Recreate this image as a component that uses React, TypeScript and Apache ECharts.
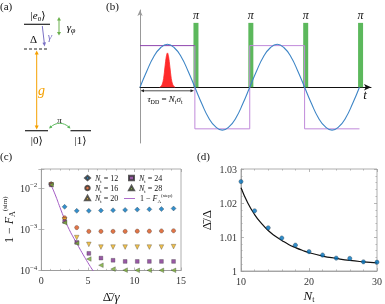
import React, { useEffect, useRef } from 'react';
import * as echarts from 'echarts';

const SERIF = '"Liberation Serif", "DejaVu Serif", serif';

// ---------- panel (b) data (schematic) ----------
const sineWave: [number, number][] = [
  [0, 0], [0.125, 0.38], [0.25, 0.71], [0.375, 0.92], [0.5, 1], [0.625, 0.92], [0.75, 0.71], [0.875, 0.38],
  [1, 0], [1.125, -0.38], [1.25, -0.71], [1.375, -0.92], [1.5, -1], [1.625, -0.92], [1.75, -0.71], [1.875, -0.38],
  [2, 0], [2.125, 0.38], [2.25, 0.71], [2.375, 0.92], [2.5, 1], [2.625, 0.92], [2.75, 0.71], [2.875, 0.38],
  [3, 0], [3.125, -0.38], [3.25, -0.71], [3.375, -0.92], [3.5, -1], [3.625, -0.92], [3.75, -0.71], [3.875, -0.38],
  [4, 0],
];
const squareFirst: [number, number][] = [[0, 0.97], [1, 0.97]];
const squareRest: [number, number][] = [
  [1, 0.97], [1, -0.97], [2, -0.97], [2, 0.97], [3, 0.97], [3, -0.97], [4, -0.97],
];
const gaussPulse: [number, number][] = [
  [0.36, 0], [0.4, 0.05], [0.43, 0.2], [0.455, 0.47], [0.48, 0.72], [0.5, 0.8],
  [0.52, 0.72], [0.545, 0.47], [0.57, 0.2], [0.6, 0.05], [0.64, 0],
];
const piPulseX = [1.02, 2.02, 3.02, 4.02];
const piPulseHeight = [1.5, 1.5, 1.5, 1.5];

// ---------- panel (c) data ----------
const cDelta = [1.05, 2.5, 3.8, 5.1, 6.4, 7.7, 9.0, 10.3, 11.6, 12.9, 14.2];
const cN12 = [1.25e-2, 3.5e-3, 2.8e-3, 2.8e-3, 2.85e-3, 2.9e-3, 2.95e-3, 3.0e-3, 3.05e-3, 3.1e-3, 3.2e-3];
const cN16 = [1.25e-2, 1.9e-3, 1.1e-3, 8.9e-4, 8.9e-4, 8.9e-4, 8.9e-4, 9.0e-4, 9.0e-4, 9.1e-4, 9.2e-4];
const cN20 = [1.2e-2, 1.7e-3, 6.3e-4, 4.3e-4, 3.7e-4, 3.7e-4, 3.7e-4, 3.7e-4, 3.7e-4, 3.7e-4, 3.8e-4];
const cN24 = [1.2e-2, 1.55e-3, 4.8e-4, 2.6e-4, 2.0e-4, 1.77e-4, 1.66e-4, 1.66e-4, 1.66e-4, 1.66e-4, 1.66e-4];
const cN28 = [1.2e-2, 1.45e-3, 4.6e-4, 1.9e-4, 1.34e-4, 1.08e-4, 1.02e-4, 1.01e-4, 1.01e-4, 1.01e-4, 1.01e-4];
const cStepX = [1.0, 1.5, 2.0, 2.5, 3.0, 3.5, 4.0, 4.5, 5.0, 5.5, 6.0];
const cStepY = [1.25e-2, 6.8e-3, 3.4e-3, 1.75e-3, 9.8e-4, 6.0e-4, 3.8e-4, 2.4e-4, 1.55e-4, 1.03e-4, 7e-5];
const STEP_NAME = '1 − F_A^(step)';

// ---------- panel (d) data ----------
const dNt = [10, 12, 14, 16, 18, 20, 22, 24, 26, 28, 30];
const dRatio = [1.0263, 1.0177, 1.0127, 1.0097, 1.0076, 1.0057, 1.0047, 1.0038, 1.0037, 1.0027, 1.0026];
const dFitNt = [10, 11, 12, 13, 14, 15, 16, 17, 18, 19, 20, 22, 24, 26, 28, 30];
const dFitRatio = [1.0245, 1.02, 1.0166, 1.014, 1.0119, 1.0103, 1.009, 1.0078, 1.0069, 1.0061, 1.0054,
  1.0044, 1.0037, 1.0031, 1.0027, 1.0024];

const C_BLUE = '#0072BD';
const C_ORANGE = '#D95319';
const C_YELLOW = '#EDB120';
const C_PURPLE = '#7E2F8E';
const C_GREEN = '#77AC30';
const C_STEP = '#a35bc4';
const FRAME = '#999';
const LABEL = '#333';

const richBase = (size: number) => ({
  n: { fontFamily: SERIF, fontSize: size, lineHeight: size + 3, color: '#111' },
  i: { fontFamily: SERIF, fontSize: size, fontStyle: 'italic', lineHeight: size + 3, color: '#111' },
  s: { fontFamily: SERIF, fontSize: Math.round(size * 0.65), verticalAlign: 'bottom', lineHeight: Math.round(size * 0.55), color: '#111' },
  p: { fontFamily: SERIF, fontSize: Math.round(size * 0.6), verticalAlign: 'top', lineHeight: Math.round(size * 0.55), color: '#111' },
});

const legendFormatter = (name: string) => {
  if (name === STEP_NAME) return '{n|1 − }{i|F}{s|A}{p|(step)}';
  return `{i|N}{s|t}{n| = ${name.replace('Nt = ', '')}}`;
};

const logLabel = (val: number) => {
  const l = Math.log10(val);
  const e = Math.round(l);
  if (Math.abs(l - e) > 1e-6) return '';
  return `{b|10}{sup|${e < 0 ? '−' : ''}${Math.abs(e)}}`;
};

// small helper for arrow heads in the schematic
const head = (tx: number, ty: number, dx: number, dy: number, len: number, hw: number) => {
  const m = Math.hypot(dx, dy);
  const ux = dx / m, uy = dy / m;
  const bx = tx - ux * len, by = ty - uy * len;
  return [[tx, ty], [bx - uy * hw, by + ux * hw], [bx + uy * hw, by - ux * hw]];
};

const cScatter = (name: string, data: number[], color: string, symbol: string, size: number, rotate = 0) => ({
  name,
  type: 'scatter',
  xAxisIndex: 1,
  yAxisIndex: 1,
  symbol,
  symbolSize: size,
  symbolRotate: rotate,
  itemStyle: { color, borderColor: '#333', borderWidth: 0.4 },
  data: cDelta.map((x, k) => [x, data[k]]),
  z: 3,
});

const minorAxisCommon = {
  axisLine: { show: false },
  splitLine: { show: false },
  axisLabel: { show: false },
  axisTick: { show: true, inside: true, length: 3, lineStyle: { color: FRAME, width: 0.7 } },
  minorTick: { show: true, length: 1.6, splitNumber: 5, lineStyle: { color: FRAME, width: 0.6 } },
};

const legendCommon = {
  orient: 'vertical', itemWidth: 5, itemHeight: 4.5, itemGap: 0.5,
  formatter: legendFormatter, textStyle: { rich: richBase(8) }, padding: 0, selectedMode: false,
};

const option: any = {
  animation: false,
  textStyle: { fontFamily: SERIF },
  grid: [
    { left: 140, top: 10, width: 231, height: 133 },
    { left: 40, top: 169, width: 141, height: 103, show: true, borderColor: FRAME, borderWidth: 0.8 },
    { left: 241, top: 169, width: 139, height: 103, show: true, borderColor: FRAME, borderWidth: 0.8 },
  ],
  xAxis: [
    {
      gridIndex: 0, type: 'value', min: 0, max: 4.21,
      axisLine: { show: true, onZero: true, symbol: ['none', 'arrow'], symbolSize: [5, 7], lineStyle: { color: '#111', width: 1 } },
      axisTick: { show: false }, axisLabel: { show: false }, splitLine: { show: false },
    },
    {
      gridIndex: 1, type: 'value', min: 0, max: 15, interval: 5, position: 'bottom',
      axisLine: { show: true, onZero: false, lineStyle: { color: FRAME, width: 0.8 } },
      axisTick: { show: true, inside: true, length: 3, lineStyle: { color: FRAME, width: 0.7 } },
      minorTick: { show: true, length: 1.6, splitNumber: 5, lineStyle: { color: FRAME, width: 0.6 } },
      axisLabel: { color: LABEL, fontSize: 10, margin: 5, fontFamily: SERIF },
      splitLine: { show: false },
      name: '{n|Δ̄/}{i|γ}', nameLocation: 'middle', nameGap: 18,
      nameTextStyle: { rich: richBase(13) },
    },
    { gridIndex: 1, type: 'value', min: 0, max: 15, interval: 5, position: 'top', ...minorAxisCommon },
    {
      gridIndex: 2, type: 'value', min: 10, max: 30, interval: 10, position: 'bottom',
      axisLine: { show: true, onZero: false, lineStyle: { color: FRAME, width: 0.8 } },
      axisTick: { show: true, inside: true, length: 3, lineStyle: { color: FRAME, width: 0.7 } },
      minorTick: { show: true, length: 1.6, splitNumber: 5, lineStyle: { color: FRAME, width: 0.6 } },
      axisLabel: { color: LABEL, fontSize: 10, margin: 5, fontFamily: SERIF },
      splitLine: { show: false },
      name: '{i|N}{s|t}', nameLocation: 'middle', nameGap: 16,
      nameTextStyle: { rich: richBase(13) },
    },
    { gridIndex: 2, type: 'value', min: 10, max: 30, interval: 10, position: 'top', ...minorAxisCommon },
  ],
  yAxis: [
    {
      gridIndex: 0, type: 'value', min: -1.3, max: 1.8,
      axisLine: { show: true, onZero: true, symbol: ['none', 'arrow'], symbolSize: [4, 6], lineStyle: { color: '#999', width: 1 } },
      axisTick: { show: false }, axisLabel: { show: false }, splitLine: { show: false },
    },
    {
      gridIndex: 1, type: 'log', min: 1e-4, max: 0.029, position: 'left',
      axisLine: { show: true, onZero: false, lineStyle: { color: FRAME, width: 0.8 } },
      axisTick: { show: true, inside: true, length: 3, lineStyle: { color: FRAME, width: 0.7 } },
      axisLabel: {
        color: LABEL, margin: 4, formatter: logLabel,
        rich: {
          b: { fontSize: 10, fontFamily: SERIF, color: LABEL, lineHeight: 13 },
          sup: { fontSize: 7, fontFamily: SERIF, color: LABEL, verticalAlign: 'top', lineHeight: 6 },
        },
      },
      splitLine: { show: false },
      name: '{n|1 − }{i|F}{s|A}{p|(sim)}', nameLocation: 'middle', nameRotate: 90, nameGap: 21,
      nameTextStyle: { rich: richBase(12) },
    },
    {
      gridIndex: 1, type: 'log', min: 1e-4, max: 0.029, position: 'right',
      axisLine: { show: false }, splitLine: { show: false }, axisLabel: { show: false },
      axisTick: { show: true, inside: true, length: 3, lineStyle: { color: FRAME, width: 0.7 } },
    },
    {
      gridIndex: 2, type: 'value', min: 1, max: 1.03, interval: 0.01, position: 'left',
      axisLine: { show: true, onZero: false, lineStyle: { color: FRAME, width: 0.8 } },
      axisTick: { show: true, inside: true, length: 3, lineStyle: { color: FRAME, width: 0.7 } },
      minorTick: { show: true, length: 1.6, splitNumber: 5, lineStyle: { color: FRAME, width: 0.6 } },
      axisLabel: { color: LABEL, fontSize: 10, margin: 4, fontFamily: SERIF },
      splitLine: { show: false },
      name: '{n|Δ̄/Δ}', nameLocation: 'middle', nameRotate: 90, nameGap: 27,
      nameTextStyle: { rich: richBase(13) },
    },
    { gridIndex: 2, type: 'value', min: 1, max: 1.03, interval: 0.01, position: 'right', ...minorAxisCommon },
  ],
  legend: [
    { ...legendCommon, left: 84, top: 174, data: ['Nt = 12', 'Nt = 16', 'Nt = 20'] },
    { ...legendCommon, left: 128, top: 174, data: ['Nt = 24', 'Nt = 28'] },
    {
      ...legendCommon, left: 124, top: 193, itemWidth: 11,
      data: [{ name: STEP_NAME, icon: 'path://M0 0 H20 V1.6 H0 Z', itemStyle: { color: C_STEP } }],
    },
  ],
  series: [
    // ---- panel (b)
    {
      type: 'line', xAxisIndex: 0, yAxisIndex: 0, data: gaussPulse, smooth: 0.3, showSymbol: false,
      lineStyle: { color: '#ff2a2a', width: 0.8 }, areaStyle: { color: '#ff2a2a', opacity: 1 }, z: 2,
    },
    {
      type: 'bar', xAxisIndex: 0, yAxisIndex: 0, barWidth: 5,
      data: piPulseX.map((x, k) => [x, piPulseHeight[k]]),
      itemStyle: { color: '#5cb85c' },
      label: {
        show: true, position: 'top', distance: 2, formatter: 'π',
        fontFamily: SERIF, fontStyle: 'italic', fontSize: 12, color: '#111',
      },
      z: 2,
    },
    {
      type: 'line', xAxisIndex: 0, yAxisIndex: 0, data: squareFirst, showSymbol: false,
      lineStyle: { color: '#8e44ad', width: 1 }, z: 3,
    },
    {
      type: 'line', xAxisIndex: 0, yAxisIndex: 0, data: squareRest, showSymbol: false,
      lineStyle: { color: '#c08ada', width: 1 }, z: 3,
    },
    {
      type: 'line', xAxisIndex: 0, yAxisIndex: 0, data: sineWave, smooth: true, showSymbol: false,
      lineStyle: { color: '#3d85c6', width: 1.1 }, z: 4,
    },
    // ---- panel (c)
    {
      name: STEP_NAME, type: 'line', xAxisIndex: 1, yAxisIndex: 1, smooth: true, showSymbol: false,
      symbol: 'none', clip: true,
      data: cStepX.map((x, k) => [x, cStepY[k]]),
      lineStyle: { color: C_STEP, width: 1 }, itemStyle: { color: C_STEP }, z: 2,
    },
    cScatter('Nt = 12', cN12, C_BLUE, 'diamond', 5),
    cScatter('Nt = 16', cN16, C_ORANGE, 'circle', 4.2),
    cScatter('Nt = 20', cN20, C_YELLOW, 'triangle', 4.6, 180),
    cScatter('Nt = 24', cN24, C_PURPLE, 'rect', 3.8),
    cScatter('Nt = 28', cN28, C_GREEN, 'triangle', 4.6, 90),
    // ---- panel (d)
    {
      type: 'line', xAxisIndex: 3, yAxisIndex: 3, smooth: true, showSymbol: false,
      data: dFitNt.map((x, k) => [x, dFitRatio[k]]),
      lineStyle: { color: '#111', width: 1.2 }, z: 2,
    },
    {
      type: 'scatter', xAxisIndex: 3, yAxisIndex: 3, symbol: 'circle', symbolSize: 4.3,
      data: dNt.map((x, k) => [x, dRatio[k]]),
      itemStyle: { color: C_BLUE, borderColor: '#333', borderWidth: 0.4 }, z: 3, clip: false,
    },
  ],
  graphic: [
    // panel labels
    { type: 'text', x: 0, y: 6, style: { text: '(a)', font: `11px ${SERIF}`, fill: '#111', verticalAlign: 'middle' } },
    { type: 'text', x: 106, y: 6, style: { text: '(b)', font: `11px ${SERIF}`, fill: '#111', verticalAlign: 'middle' } },
    { type: 'text', x: 0, y: 156, style: { text: '(c)', font: `11px ${SERIF}`, fill: '#111', verticalAlign: 'middle' } },
    { type: 'text', x: 197, y: 156, style: { text: '(d)', font: `11px ${SERIF}`, fill: '#111', verticalAlign: 'middle' } },

    // ---- panel (a) level diagram
    {
      type: 'text', x: 38, y: 15,
      style: { text: '{n||}{i|e}{s|0}{n|⟩}', rich: richBase(11), align: 'center', verticalAlign: 'middle' },
    },
    { type: 'line', shape: { x1: 24, y1: 24.3, x2: 50, y2: 24.3 }, style: { stroke: '#222', lineWidth: 1.2 } },
    { type: 'text', x: 33.5, y: 39, style: { text: 'Δ', font: `11px ${SERIF}`, fill: '#111', align: 'center', verticalAlign: 'middle' } },
    { type: 'line', shape: { x1: 24, y1: 49, x2: 49, y2: 49 }, style: { stroke: '#222', lineWidth: 1.2, lineDash: [3, 2] } },
    // gamma decay arrow
    { type: 'line', shape: { x1: 42.3, y1: 26, x2: 44.3, y2: 43 }, style: { stroke: '#7a70c4', lineWidth: 1 } },
    { type: 'polygon', shape: { points: head(44.6, 46.5, 2, 20.5, 4, 1.8) }, style: { fill: '#7a70c4' } },
    { type: 'text', x: 50, y: 36, style: { text: 'γ', font: `italic 11px ${SERIF}`, fill: '#7a70c4', align: 'center', verticalAlign: 'middle' } },
    // gamma_phi double arrow
    { type: 'line', shape: { x1: 59, y1: 20, x2: 59, y2: 32.5 }, style: { stroke: '#6ab04c', lineWidth: 1 } },
    { type: 'polygon', shape: { points: head(59, 17, 0, -1, 3.5, 2) }, style: { fill: '#6ab04c' } },
    { type: 'polygon', shape: { points: head(59, 35.5, 0, 1, 3.5, 2) }, style: { fill: '#6ab04c' } },
    {
      type: 'text', x: 71, y: 27,
      style: {
        text: '{i|γ}{s|φ}', align: 'center', verticalAlign: 'middle',
        rich: {
          i: { fontFamily: SERIF, fontStyle: 'italic', fontSize: 11, color: '#6ab04c', lineHeight: 14 },
          s: { fontFamily: SERIF, fontStyle: 'italic', fontSize: 8, color: '#6ab04c', verticalAlign: 'bottom', lineHeight: 7 },
        },
      },
    },
    // g double arrow
    { type: 'line', shape: { x1: 36.7, y1: 53, x2: 36.7, y2: 127 }, style: { stroke: '#f5a000', lineWidth: 1 } },
    { type: 'polygon', shape: { points: head(36.7, 50.5, 0, -1, 4, 2) }, style: { fill: '#f5a000' } },
    { type: 'polygon', shape: { points: head(36.7, 129.5, 0, 1, 4, 2) }, style: { fill: '#f5a000' } },
    { type: 'text', x: 41.5, y: 90, style: { text: 'g', font: `italic 14px ${SERIF}`, fill: '#f5a000', align: 'center', verticalAlign: 'middle' } },
    // ground levels
    { type: 'line', shape: { x1: 25, y1: 130.7, x2: 48, y2: 130.7 }, style: { stroke: '#222', lineWidth: 1.2 } },
    { type: 'line', shape: { x1: 70.5, y1: 130.7, x2: 91, y2: 130.7 }, style: { stroke: '#222', lineWidth: 1.2 } },
    { type: 'text', x: 36.7, y: 139.5, style: { text: '|0⟩', font: `11px ${SERIF}`, fill: '#111', align: 'center', verticalAlign: 'middle' } },
    { type: 'text', x: 80.5, y: 139.5, style: { text: '|1⟩', font: `11px ${SERIF}`, fill: '#111', align: 'center', verticalAlign: 'middle' } },
    // pi arc
    {
      type: 'bezierCurve',
      shape: { x1: 50.5, y1: 127.2, x2: 69, y2: 127.2, cpx1: 56, cpy1: 122, cpx2: 63.5, cpy2: 122 },
      style: { stroke: '#5cb85c', lineWidth: 1, fill: 'none' },
    },
    { type: 'polygon', shape: { points: head(49, 128.5, -1.2, 1, 3, 1.6) }, style: { fill: '#5cb85c' } },
    { type: 'polygon', shape: { points: head(70.5, 128.5, 1.2, 1, 3, 1.6) }, style: { fill: '#5cb85c' } },
    { type: 'text', x: 59.5, y: 120, style: { text: 'π', font: `italic 9px ${SERIF}`, fill: '#111', align: 'center', verticalAlign: 'middle' } },

    // ---- panel (b) annotations
    { type: 'line', shape: { x1: 143, y1: 90.8, x2: 191.5, y2: 90.8 }, style: { stroke: '#222', lineWidth: 0.8 } },
    { type: 'polygon', shape: { points: head(140.5, 90.8, -1, 0, 3.5, 1.5) }, style: { fill: '#222' } },
    { type: 'polygon', shape: { points: head(194, 90.8, 1, 0, 3.5, 1.5) }, style: { fill: '#222' } },
    {
      type: 'text', x: 165, y: 99,
      style: {
        text: '{i|τ}{s|DD}{n| = }{i|N}{s|t}{i|σ}{s|t}', align: 'center', verticalAlign: 'middle',
        rich: richBase(9),
      },
    },
    { type: 'text', x: 365, y: 94, style: { text: 't', font: `italic 13px ${SERIF}`, fill: '#111', align: 'center', verticalAlign: 'middle' } },
  ],
};

export default function App() {
  const ref = useRef<HTMLDivElement>(null);
  useEffect(() => {
    const chart = echarts.init(ref.current as HTMLDivElement, undefined, { renderer: 'svg' });
    chart.setOption(option);
    return () => chart.dispose();
  }, []);
  return <div ref={ref} style={{ position: 'fixed', left: 0, top: 0, width: 385, height: 304 }} />;
}
